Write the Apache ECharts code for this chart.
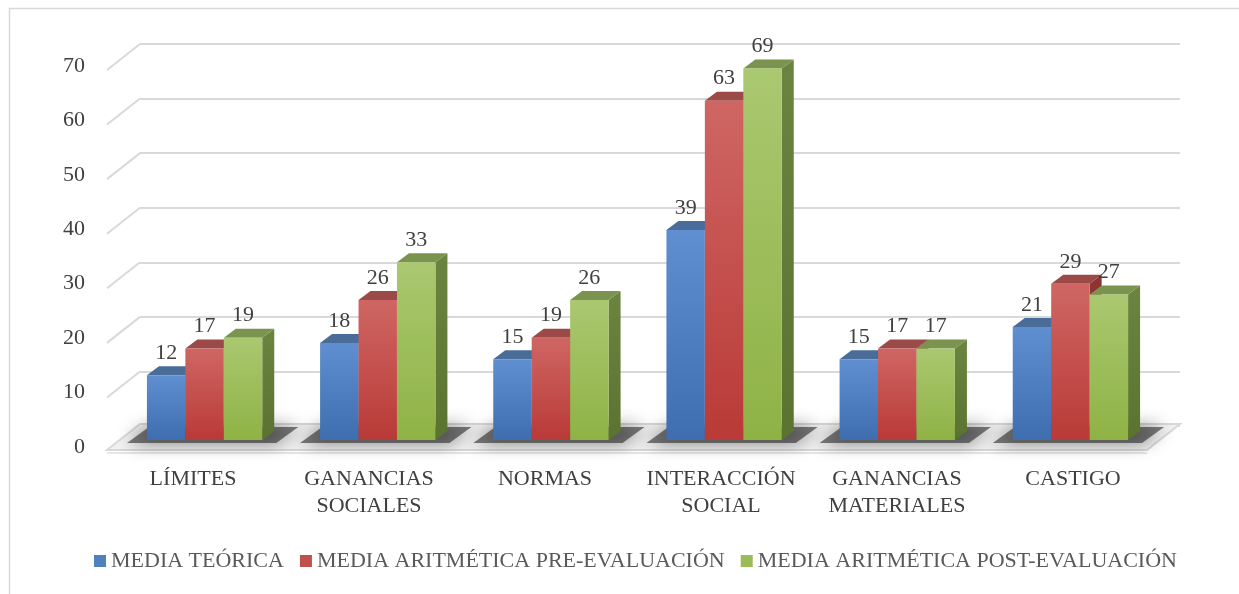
<!DOCTYPE html>
<html><head><meta charset="utf-8">
<script src="https://cdn.jsdelivr.net/npm/echarts@6/dist/echarts.min.js"></script>
<style>html,body{margin:0;padding:0;background:#fff}#c{width:1239px;height:594px}</style>
</head><body><div id="c"></div>
<script>
const categories = ['LÍMITES', 'GANANCIAS\nSOCIALES', 'NORMAS', 'INTERACCIÓN\nSOCIAL', 'GANANCIAS\nMATERIALES', 'CASTIGO'];
const seriesNames = ['MEDIA TEÓRICA', 'MEDIA ARITMÉTICA PRE-EVALUACIÓN', 'MEDIA ARITMÉTICA POST-EVALUACIÓN'];
const mediaTeorica = [12, 18, 15, 39, 15, 21];
const preEvaluacion = [17, 26, 19, 63, 17, 29];
const postEvaluacion = [19, 33, 26, 69, 17, 27];
const yTicks = [0, 10, 20, 30, 40, 50, 60, 70];

const FONT = 'Liberation Serif';
const TXT = '#404040';
const DX = 12, DY = 9;          // bar depth offset
const WDX = 33, WDY = 26;       // back wall to front offset
const palettes = [
  {front: ['#5f8fd0', '#3e6eb0'], top: '#4a6c99', side: ['#3d6494', '#2f5282'], legend: '#4f81bd'},
  {front: ['#cf6663', '#b93a37'], top: '#9b4a48', side: ['#8e3533', '#7d2a28'], legend: '#c0504d'},
  {front: ['#aac870', '#8fb245'], top: '#7a9450', side: ['#6b8440', '#5a7330'], legend: '#9bbb59'}
];
const allData = [mediaTeorica, preEvaluacion, postEvaluacion];

function lg(c) { return new echarts.graphic.LinearGradient(0, 0, 0, 1, [{offset: 0, color: c[0]}, {offset: 1, color: c[1]}]); }

function barRender(si) {
  return function (params, api) {
    const cat = api.value(0), v = api.value(1);
    const c = api.coord([cat, v]);
    const base = api.coord([cat, 0]);
    const band = api.size([1, 0])[0];
    const bw = band * 0.222;
    const x0 = c[0] - 1.5 * bw + si * bw;
    const yT = c[1], yB = base[1];
    const p = palettes[si];
    return {
      type: 'group',
      children: [
        {type: 'polygon', shape: {points: [[x0 + bw, yT], [x0 + bw + DX, yT - DY], [x0 + bw + DX, yB - DY], [x0 + bw, yB]]},
         style: {fill: lg(p.side)}},
        {type: 'polygon', shape: {points: [[x0, yT], [x0 + DX, yT - DY], [x0 + bw + DX, yT - DY], [x0 + bw, yT]]},
         style: {fill: p.top}},
        {type: 'rect', shape: {x: x0, y: yT, width: bw, height: yB - yT}, style: {fill: lg(p.front)}},
        {type: 'text', style: {text: String(v), x: x0 + bw / 2, y: yT - 11, textAlign: 'center', textVerticalAlign: 'bottom',
          fill: TXT, font: '22px "' + FONT + '"'}}
      ]
    };
  };
}

function shadowRender(params, api) {
  const cat = api.value(0);
  const c = api.coord([cat, 0]);
  const band = api.size([1, 0])[0];
  const bw = band * 0.222;
  const xl = c[0] - 1.5 * bw, xr = c[0] + 1.5 * bw;
  const y = c[1];
  return {
    type: 'polygon',
    shape: {points: [[xl - 20, y + 3], [xl + 2, y - 13], [xr + 36, y - 13], [xr + 14, y + 3]]},
    style: {fill: 'rgba(25,25,25,0.55)', shadowBlur: 18, shadowColor: 'rgba(0,0,0,0.9)'}
  };
}

function floorRender(params, api) {
  const cs = params.coordSys;
  const y0 = api.coord([0, 0])[1];
  const xl = cs.x, xr = cs.x + cs.width;
  return {
    type: 'group',
    children: [
      {type: 'polygon', shape: {points: [[xl - WDX, y0 + WDY - 2], [xl, y0 - 2], [xr, y0 - 2], [xr - WDX, y0 + WDY - 2]]},
       style: {fill: '#f2f2f2', stroke: '#d9d9d9', lineWidth: 2}},
      {type: 'line', shape: {x1: xl - WDX, y1: y0 + WDY + 1, x2: xr - WDX, y2: y0 + WDY + 1}, style: {stroke: '#e6e6e6', lineWidth: 2}}
    ]
  };
}

function wallRender(params, api) {
  const cs = params.coordSys;
  const y = api.coord([0, api.value(1)])[1];
  return {type: 'line', shape: {x1: cs.x - WDX, y1: y + WDY, x2: cs.x, y2: y}, style: {stroke: '#d9d9d9', lineWidth: 2}};
}

const chart = echarts.init(document.getElementById('c'));
const series = [
  {type: 'custom', name: '_wall', xAxisIndex: 1, yAxisIndex: 1, data: yTicks.slice(1).map(t => [0, t]), renderItem: wallRender, silent: true, z: 1},
  {type: 'custom', name: '_floor', xAxisIndex: 1, yAxisIndex: 1, data: [[0, 0]], renderItem: floorRender, silent: true, z: 2},
  {type: 'custom', name: '_shadow', xAxisIndex: 0, yAxisIndex: 0, data: categories.map((c, i) => [i, 0]), renderItem: shadowRender, silent: true, z: 3}
];
allData.forEach((d, si) => {
  series.push({type: 'custom', name: seriesNames[si], xAxisIndex: 0, yAxisIndex: 0, z: 10 + si,
    itemStyle: {color: palettes[si].legend},
    data: d.map((v, i) => [i, v]), renderItem: barRender(si)});
});

chart.setOption({
  animation: false,
  textStyle: {fontFamily: FONT},
  graphic: [{type: 'rect', shape: {x: 9.5, y: 8.5, width: 1240, height: 600}, style: {fill: 'none', stroke: '#d9d9d9', lineWidth: 1.5}, silent: true}],
  grid: [
    {left: 118, right: 82, top: 63, bottom: 154},
    {left: 140, right: 59, top: 44, bottom: 168},
    {left: 105, right: 78, top: 66, bottom: 147}
  ],
  xAxis: [
    {gridIndex: 0, type: 'category', data: categories, show: false},
    {gridIndex: 1, type: 'category', data: categories, show: false},
    {gridIndex: 2, type: 'category', data: categories, axisLine: {show: false}, axisTick: {show: false},
     axisLabel: {interval: 0, color: TXT, fontSize: 22, fontFamily: FONT, margin: 19, lineHeight: 27}}
  ],
  yAxis: [
    {gridIndex: 0, type: 'value', min: 0, max: 70, interval: 10, show: false},
    {gridIndex: 1, type: 'value', min: 0, max: 70, interval: 10, axisLabel: {show: false}, axisLine: {show: false}, axisTick: {show: false},
     splitLine: {lineStyle: {color: '#d9d9d9', width: 2}}},
    {gridIndex: 2, type: 'value', min: 0, max: 70, interval: 10, axisLine: {show: false}, axisTick: {show: false}, splitLine: {show: false},
     axisLabel: {color: TXT, fontSize: 22, fontFamily: FONT, margin: 20}}
  ],
  legend: {
    data: seriesNames, bottom: 17, left: 89, itemWidth: 12, itemHeight: 12, itemGap: 16, icon: 'rect',
    textStyle: {color: '#595959', fontSize: 22, fontFamily: FONT}
  },
  series: series
});
</script></body></html>
